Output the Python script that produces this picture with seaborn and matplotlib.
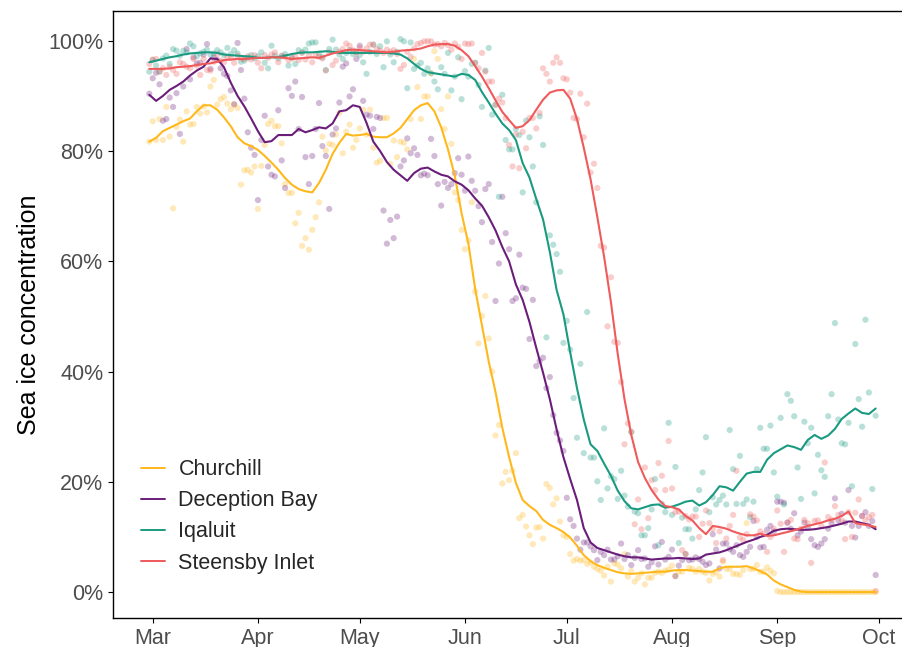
import numpy as np
import pandas as pd
import matplotlib
matplotlib.use("Agg")
import matplotlib.pyplot as plt
import matplotlib.dates as mdates
from matplotlib.ticker import FuncFormatter
import seaborn as sns

# ---------------------------------------------------------------- data
sites = ["Churchill", "Deception Bay", "Iqaluit", "Steensby Inlet"]
site_colors = ["#FFB81C", "#6B1D7A", "#1A9A80", "#EF5A5A"]

# daily observations, 28 Feb - 30 Sep 2019
day_dates = pd.date_range("2019-02-28", "2019-09-30", freq="D")
# smoothed concentration, every second day over the same period
smooth_dates = pd.date_range("2019-02-28", "2019-09-30", freq="2D")

churchill_daily = [
    81.7, 85.4, 82.0, 85.8, 82.0, 88.0, 82.6, 69.6, 84.4, 85.7,
    81.7, 87.2, 84.8, 84.9, 88.0, 86.8, 88.1, 87.0, 91.7, 92.9,
    88.4, 89.4, 89.8, 88.6, 87.6, 88.4, 87.8, 73.9, 76.5, 76.6,
    76.1, 77.2, 69.5, 77.3, 81.1, 84.9, 85.5, 84.5, 84.5, 81.4,
    74.0, 72.4, 72.4, 66.9, 68.8, 62.8, 64.2, 62.1, 65.7, 68.0,
    70.7, 82.6, 80.1, 81.3, 81.1, 83.0, 86.9, 79.6, 83.5, 84.8,
    80.6, 82.0, 84.1, 87.5, 83.0, 87.5, 80.6, 77.9, 78.2, 86.0,
    86.0, 77.7, 81.9, 78.9, 81.7, 81.5, 80.3, 85.8, 96.7, 91.6,
    85.8, 89.9, 89.9, 94.1, 98.1, 96.7, 87.6, 84.0, 89.9, 81.3,
    72.5, 71.1, 65.7, 62.2, 63.8, 70.7, 54.5, 45.1, 50.1, 53.7,
    46.0, 40.0, 28.4, 30.3, 19.7, 21.8, 20.3, 22.0, 25.2, 13.4,
    14.0, 11.9, 10.3, 8.7, 11.7, 11.8, 9.7, 19.6, 18.9, 15.9,
    17.0, 12.8, 10.3, 10.0, 6.9, 5.7, 6.0, 5.7, 5.8, 5.1,
    5.4, 4.6, 4.2, 3.9, 3.0, 4.6, 1.9, 5.2, 5.0, 4.3,
    6.9, 2.8, 3.8, 1.9, 2.6, 3.4, 1.4, 2.6, 2.6, 3.5,
    3.7, 3.5, 3.9, 4.1, 4.8, 2.9, 3.7, 3.7, 6.9, 4.4,
    4.2, 3.7, 4.2, 3.7, 3.5, 2.1, 3.3, 3.6, 2.8, 5.5,
    4.2, 4.2, 3.3, 3.3, 3.1, 4.0, 12.5, 4.2, 4.2, 4.9,
    3.7, 3.7, 4.5, 3.9, 3.4, 0.2, 0.0, 0.0, 0.0, 0.0,
    0.0, 0.0, 0.0, 0.0, 0.0, 0.0, 0.0, 0.0, 0.0, 0.0,
    0.0, 0.0, 0.0, 0.0, 0.0, 0.0, 0.0, 0.0, 0.0, 0.0,
    0.0, 0.0, 0.0, 0.0, 0.0,
]

deception_daily = [
    90.4, 93.2, 94.2, 92.1, 85.5, 85.8, 89.7, 88.0, 90.5, 83.1,
    91.7, 98.5, 93.0, 97.0, 95.9, 96.0, 97.5, 99.4, 94.9, 97.0,
    96.5, 95.0, 94.0, 93.6, 91.0, 88.5, 99.6, 94.7, 89.5, 83.4,
    80.6, 79.3, 71.1, 82.0, 86.4, 77.2, 75.7, 75.4, 87.4, 78.3,
    73.3, 91.4, 90.0, 92.6, 84.0, 89.8, 78.9, 74.0, 79.1, 84.0,
    88.7, 80.9, 79.1, 69.5, 83.0, 84.1, 88.8, 95.3, 95.9, 89.9,
    91.2, 96.7, 99.1, 89.1, 86.6, 86.4, 84.0, 86.2, 86.0, 69.2,
    63.2, 67.5, 64.2, 68.1, 77.2, 78.3, 82.3, 79.6, 80.5, 79.3,
    75.6, 75.9, 75.6, 82.2, 79.1, 74.0, 70.1, 74.4, 73.3, 74.0,
    76.0, 78.7, 75.7, 72.8, 79.0, 74.6, 72.8, 70.0, 67.1, 73.1,
    74.0, 63.5, 52.8, 59.6, 71.7, 65.1, 62.2, 52.8, 53.3, 61.2,
    55.2, 55.0, 45.9, 53.0, 41.0, 41.9, 42.5, 37.0, 39.0, 32.1,
    28.9, 27.5, 25.6, 17.1, 13.2, 12.0, 9.7, 7.7, 9.0, 9.0,
    8.3, 7.6, 5.8, 7.3, 6.7, 7.7, 5.9, 5.9, 6.5, 8.8,
    6.0, 6.7, 4.9, 6.2, 7.6, 6.0, 6.1, 4.6, 5.4, 8.3,
    5.0, 9.1, 5.9, 6.4, 7.7, 2.9, 4.8, 5.8, 6.9, 5.8,
    5.9, 6.3, 6.0, 5.5, 4.9, 5.2, 10.5, 7.7, 4.3, 8.8,
    8.8, 7.8, 7.3, 8.5, 6.7, 6.4, 7.3, 8.2, 12.9, 10.0,
    8.1, 8.2, 11.3, 12.0, 11.0, 16.4, 16.4, 16.2, 12.6, 11.5,
    14.3, 10.3, 11.0, 12.6, 11.8, 9.6, 8.5, 8.2, 8.8, 9.6,
    11.5, 12.5, 17.0, 13.0, 14.2, 12.6, 18.5, 12.0, 9.9, 12.0,
    13.8, 14.5, 12.0, 12.9, 3.1,
]

iqaluit_daily = [
    94.4, 96.5, 95.5, 94.4, 96.8, 97.3, 95.8, 98.5, 98.2, 97.3,
    98.2, 97.9, 99.5, 99.0, 97.2, 97.7, 98.0, 98.4, 97.5, 97.7,
    98.3, 97.9, 97.4, 98.7, 97.6, 98.3, 97.7, 96.2, 96.4, 96.9,
    97.4, 96.8, 97.2, 97.9, 96.0, 95.0, 99.1, 97.3, 96.8, 97.2,
    97.6, 95.5, 97.0, 95.8, 98.3, 97.9, 98.4, 99.5, 99.7, 99.7,
    97.7, 97.0, 94.7, 98.5, 100.2, 98.4, 97.5, 96.7, 97.8, 98.3,
    97.6, 98.0, 97.4, 96.1, 94.0, 98.0, 99.3, 97.6, 99.0, 95.2,
    99.9, 97.5, 96.1, 98.0, 100.3, 99.9, 91.4, 99.7, 94.9, 95.5,
    96.0, 94.0, 95.0, 94.1, 92.6, 91.2, 95.2, 94.0, 97.8, 91.0,
    93.5, 97.0, 89.4, 94.5, 93.5, 95.8, 96.0, 92.0, 88.0, 94.6,
    98.7, 86.6, 88.4, 71.7, 90.2, 82.0, 80.3, 80.3, 84.0, 82.9,
    72.5, 85.5, 82.5, 77.2, 70.7, 86.3, 81.1, 46.2, 64.7, 63.0,
    61.3, 58.1, 45.2, 49.2, 44.0, 35.2, 28.0, 41.4, 25.2, 50.8,
    24.4, 24.4, 20.1, 16.7, 29.7, 18.8, 21.0, 20.5, 16.9, 22.0,
    17.5, 15.5, 29.0, 14.6, 14.3, 10.3, 10.3, 11.6, 15.0, 20.5,
    8.5, 16.0, 14.5, 30.7, 14.0, 22.7, 8.9, 13.5, 11.4, 11.4,
    9.7, 15.0, 18.5, 21.7, 28.1, 14.5, 17.2, 15.9, 16.7, 17.5,
    15.9, 29.4, 22.3, 16.0, 24.7, 16.0, 16.8, 13.6, 16.4, 22.3,
    29.8, 26.0, 26.0, 30.2, 21.7, 17.3, 31.6, 15.9, 35.9, 34.7,
    31.9, 22.6, 16.9, 30.9, 27.0, 29.8, 17.9, 24.9, 22.1, 20.9,
    31.9, 35.9, 48.8, 31.3, 27.0, 26.8, 30.7, 19.2, 45.0, 35.0,
    30.0, 49.4, 36.2, 18.7, 32.0,
]

steensby_daily = [
    95.8, 96.6, 96.7, 94.4, 95.0, 93.8, 95.3, 94.7, 94.0, 96.1,
    95.8, 95.3, 95.0, 96.7, 95.5, 93.8, 96.7, 94.7, 94.6, 96.2,
    97.5, 96.4, 96.1, 97.0, 96.9, 96.0, 97.3, 96.8, 96.7, 97.2,
    96.6, 97.4, 96.0, 95.0, 97.4, 96.9, 97.5, 97.9, 96.1, 97.3,
    97.1, 96.5, 96.8, 97.2, 96.5, 97.8, 96.6, 97.4, 96.1, 97.5,
    97.1, 96.8, 94.6, 97.9, 95.6, 96.4, 98.0, 98.5, 99.5, 99.1,
    98.3, 97.8, 98.7, 98.0, 98.6, 99.3, 99.3, 98.5, 98.2, 97.8,
    98.4, 98.0, 98.3, 97.6, 94.9, 95.6, 98.0, 97.1, 98.6, 99.4,
    99.6, 99.9, 99.9, 99.9, 99.3, 99.4, 99.0, 99.6, 99.2, 98.4,
    99.5, 98.9, 96.7, 99.5, 99.4, 99.5, 96.0, 95.0, 97.8, 94.4,
    92.6, 92.6, 88.4, 89.5, 88.8, 86.0, 81.1, 77.2, 83.0, 76.9,
    83.5, 80.5, 86.0, 86.0, 84.1, 86.9, 95.0, 94.0, 92.6, 96.0,
    97.0, 96.0, 93.2, 93.0, 90.6, 86.0, 85.8, 90.4, 82.5, 88.6,
    76.1, 77.7, 73.3, 62.8, 62.5, 48.2, 57.1, 45.4, 45.2, 38.1,
    26.8, 30.6, 29.1, 12.3, 16.8, 11.4, 22.6, 13.4, 20.3, 18.5,
    23.4, 21.1, 18.5, 27.4, 18.8, 14.5, 14.6, 7.6, 13.8, 13.2,
    13.7, 13.7, 10.0, 12.4, 14.8, 12.5, 11.5, 8.9, 11.0, 5.8,
    9.7, 12.0, 14.0, 22.0, 9.9, 9.4, 10.5, 14.1, 13.7, 13.0,
    11.0, 10.5, 7.3, 10.0, 11.5, 14.8, 12.4, 7.3, 12.6, 13.1,
    9.7, 9.6, 11.5, 13.1, 12.5, 5.3, 12.9, 13.0, 12.0, 23.5,
    13.6, 13.1, 15.6, 14.0, 13.0, 9.6, 14.5, 10.0, 14.4, 16.8,
    13.8, 13.0, 13.6, 14.0, 0.2,
]

churchill_smooth = [
    81.7, 82.4, 83.6, 84.2, 84.8, 85.4, 85.9, 87.2, 88.3, 88.3,
    87.5, 86.1, 84.5, 82.5, 81.4, 80.9, 80.2, 79.1, 77.9, 76.6,
    75.1, 73.9, 73.1, 72.7, 72.5, 74.2, 76.6, 79.5, 81.5, 83.1,
    82.8, 82.9, 83.1, 82.6, 82.5, 82.5, 83.2, 84.2, 85.8, 87.4,
    88.3, 88.7, 87.2, 84.3, 80.3, 75.5, 68.7, 63.2, 55.0, 48.4,
    41.8, 36.3, 29.8, 24.5, 19.8, 16.7, 15.6, 14.7, 13.1, 12.2,
    11.6, 10.9, 9.9, 8.4, 6.7, 5.6, 4.9, 4.4, 4.0, 3.6,
    3.4, 3.3, 3.4, 3.5, 3.6, 3.7, 3.7, 3.9, 4.0, 4.0,
    3.9, 3.8, 3.7, 3.7, 4.3, 4.6, 4.6, 4.6, 4.7, 4.3,
    3.8, 3.2, 2.1, 1.4, 0.9, 0.4, 0.1, 0.0, 0.0, 0.0,
    0.0, 0.0, 0.0, 0.0, 0.0, 0.0, 0.0, 0.0,
]

deception_smooth = [
    90.2, 89.1, 90.0, 91.1, 91.8, 92.6, 93.7, 94.6, 95.3, 96.8,
    96.7, 95.2, 92.4, 90.0, 88.1, 85.9, 83.6, 81.6, 81.8, 82.9,
    82.9, 82.9, 84.0, 83.4, 83.8, 84.3, 84.1, 85.0, 87.2, 87.4,
    88.3, 88.0, 85.1, 81.7, 80.0, 78.0, 76.6, 75.6, 74.6, 76.0,
    76.8, 77.0, 76.3, 75.7, 75.4, 74.5, 73.9, 72.9, 71.4, 70.1,
    68.0, 65.6, 62.6, 60.0, 55.8, 53.0, 49.0, 44.3, 39.8, 35.0,
    29.5, 24.5, 20.5, 16.7, 11.6, 9.0, 8.0, 7.6, 7.2, 6.8,
    6.5, 6.3, 6.3, 6.1, 5.9, 6.0, 6.1, 6.1, 6.2, 6.1,
    6.0, 6.1, 6.8, 7.0, 7.2, 7.6, 8.1, 8.6, 9.1, 9.5,
    10.0, 10.4, 11.1, 11.4, 11.5, 11.4, 11.3, 11.3, 11.4, 11.6,
    11.8, 12.1, 12.4, 12.8, 12.8, 12.5, 12.2, 11.4,
]

iqaluit_smooth = [
    96.1, 96.4, 96.7, 97.0, 97.2, 97.5, 97.7, 97.8, 97.9, 97.9,
    97.8, 97.5, 97.4, 97.3, 97.2, 97.1, 96.9, 96.9, 97.0, 97.0,
    97.3, 97.6, 97.8, 97.9, 97.9, 98.0, 98.1, 98.0, 97.8, 97.8,
    97.8, 97.8, 97.8, 97.8, 97.8, 97.8, 97.7, 97.5, 96.8, 95.8,
    94.9, 94.3, 94.1, 93.9, 93.7, 93.5, 94.0, 93.8, 92.9, 90.7,
    88.8, 86.8, 85.0, 83.8, 82.0, 77.8, 75.2, 71.3, 67.6, 61.7,
    54.8, 50.4, 43.5, 37.0, 31.3, 26.8, 25.6, 23.3, 21.1, 18.4,
    16.5, 15.2, 15.0, 15.4, 15.8, 15.9, 15.3, 15.5, 15.9, 16.4,
    16.6, 15.7, 16.3, 17.6, 19.2, 19.0, 18.4, 20.0, 21.5, 21.8,
    21.8, 24.0, 25.2, 25.9, 26.6, 26.3, 25.8, 27.6, 28.5, 27.8,
    28.4, 29.6, 31.4, 32.4, 33.3, 32.5, 32.3, 33.3,
]

steensby_smooth = [
    94.9, 94.9, 94.9, 95.0, 95.2, 95.3, 95.4, 95.6, 95.8, 95.9,
    96.2, 96.5, 96.6, 96.7, 96.7, 96.8, 96.9, 96.9, 97.0, 97.0,
    96.9, 96.7, 96.8, 96.9, 97.0, 96.9, 97.3, 97.7, 98.0, 98.3,
    98.4, 98.3, 98.2, 98.1, 98.0, 97.9, 98.0, 98.2, 98.3, 98.4,
    98.6, 99.0, 99.3, 99.4, 99.4, 99.1, 98.3, 97.2, 95.4, 93.5,
    91.4, 89.2, 87.1, 85.6, 84.2, 84.5, 85.6, 87.5, 89.3, 90.6,
    91.0, 91.1, 89.5, 85.8, 80.6, 74.9, 68.0, 60.8, 52.6, 43.2,
    35.0, 28.5, 23.6, 20.7, 18.5, 16.8, 15.6, 15.4, 15.0, 13.8,
    13.0, 11.6, 10.5, 12.0, 11.8, 11.5, 11.0, 10.6, 10.3, 10.3,
    10.6, 10.2, 10.3, 10.6, 10.9, 11.2, 11.6, 12.0, 12.3, 12.6,
    13.0, 13.3, 13.8, 14.6, 12.5, 12.3, 12.1, 11.8,
]

daily_values = [churchill_daily, deception_daily, iqaluit_daily, steensby_daily]
smooth_values = [churchill_smooth, deception_smooth, iqaluit_smooth, steensby_smooth]

for vals in daily_values:
    if len(vals) != len(day_dates):
        raise ValueError(f"daily series has {len(vals)} values, expected {len(day_dates)}")
for vals in smooth_values:
    if len(vals) != len(smooth_dates):
        raise ValueError(f"smoothed series has {len(vals)} values, expected {len(smooth_dates)}")

daily = pd.concat(
    [pd.DataFrame({"date": day_dates, "site": s, "conc": v}) for s, v in zip(sites, daily_values)],
    ignore_index=True,
)
smooth = pd.concat(
    [pd.DataFrame({"date": smooth_dates, "site": s, "conc": v}) for s, v in zip(sites, smooth_values)],
    ignore_index=True,
)

# ---------------------------------------------------------------- style
sns.set_theme(style="ticks")
plt.rcParams["font.family"] = ["Liberation Sans", "DejaVu Sans"]

W, H = 902, 647
fig = plt.figure(figsize=(W / 100, H / 100), dpi=100)
# panel box; its right edge runs past the canvas
ax = fig.add_axes([113 / W, 29 / H, 800 / W, 607 / H])

palette = dict(zip(sites, site_colors))

sns.scatterplot(
    data=daily, x="date", y="conc", hue="site", hue_order=sites,
    palette=palette, s=20, alpha=0.3, linewidth=0, legend=False,
    ax=ax, zorder=1,
)
sns.lineplot(
    data=smooth, x="date", y="conc", hue="site", hue_order=sites,
    palette=palette, linewidth=1.5, estimator=None, errorbar=None,
    ax=ax, zorder=2,
)

# ---------------------------------------------------------------- axes
mar1 = mdates.date2num(pd.Timestamp("2019-03-01"))
ax.set_xlim(mar1 - 11.7, mar1 + 224.0)
ax.set_ylim(-4.7, 105.4)

ax.set_xticks(pd.date_range("2019-03-01", "2019-10-01", freq="MS"))
ax.xaxis.set_major_formatter(mdates.DateFormatter("%b"))
ax.set_yticks([0, 20, 40, 60, 80, 100])
ax.yaxis.set_major_formatter(FuncFormatter(lambda v, _: f"{v:.0f}%"))

for side in ["left", "right", "top", "bottom"]:
    ax.spines[side].set_visible(True)
    ax.spines[side].set_color("black")
    ax.spines[side].set_linewidth(1.0)

ax.tick_params(axis="both", length=3.6, width=0.8, color="black",
               labelcolor="#4D4D4D", labelsize=15.5, pad=3.3)

ax.set_xlabel("")
ax.set_ylabel("Sea ice concentration", fontsize=18, color="black", labelpad=5)

leg = ax.legend(
    title=None, frameon=False, loc="center left",
    bbox_to_anchor=(0.035, 0.1675), fontsize=15.5,
    handlelength=1.1, handletextpad=0.64, labelspacing=0.47,
    borderpad=0, borderaxespad=0,
)
for line in leg.get_lines():
    line.set_linewidth(1.4)

fig.savefig("out.png", dpi=100)
